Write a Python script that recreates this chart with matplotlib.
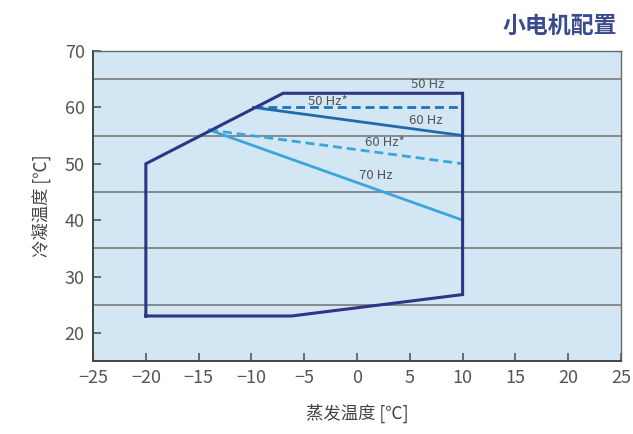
import matplotlib
matplotlib.use("Agg")
import matplotlib.pyplot as plt

plt.rcParams['font.family'] = ['Noto Sans CJK SC', 'DejaVu Sans']

# Envelope (evaporating temp, condensing temp)
env_x = [-20, -6.2, 10, 10, -7, -20, -20]
env_y = [23, 23, 26.8, 62.5, 62.5, 50, 23]

# Frequency lines
hz50s_x = [-9.8, 10]; hz50s_y = [60, 60]
hz60_x = [-9.8, 10];  hz60_y = [60, 55]
hz60s_x = [-14, 10];  hz60s_y = [56, 50]
hz70_x = [-14, 10];   hz70_y = [56, 40]

labels = ["50 Hz", "50 Hz*", "60 Hz", "60 Hz*", "70 Hz"]
label_x = [6.7, -2.8, 6.5, 2.6, 1.75]
label_y = [64.0, 61.0, 57.6, 53.8, 48.0]

xticks = list(range(-25, 30, 5))
yticks = list(range(20, 80, 10))
grid_y = [25, 35, 45, 55, 65]

fig = plt.figure(figsize=(6.33, 4.34), dpi=100)
ax = fig.add_axes([0.147, 0.168, 0.834, 0.7145])
ax.set_facecolor('#d3e6f3')
ax.set_xlim(-25, 25)
ax.set_ylim(15, 70)

for g in grid_y:
    ax.axhline(g, color='#7a7a7a', lw=1.2, zorder=1)

navy = '#2d3684'
ax.plot(env_x, env_y, color=navy, lw=2.2, zorder=4, solid_joinstyle='miter')
ax.plot(hz50s_x, hz50s_y, color='#2273b8', lw=2.0, ls=(0, (3.2, 1.8)), zorder=3)
ax.plot(hz60_x, hz60_y, color='#2169ad', lw=2.0, zorder=3)
ax.plot(hz60s_x, hz60s_y, color='#3aa6dc', lw=2.0, ls=(0, (3.2, 1.8)), zorder=3)
ax.plot(hz70_x, hz70_y, color='#3aa6dc', lw=2.0, zorder=3)

for t, x, y in zip(labels, label_x, label_y):
    ax.text(x, y, t, fontsize=9.5, color='#555555', ha='center', va='center', zorder=5)

ax.set_xticks(xticks)
ax.set_yticks(yticks)
ax.set_xticklabels([str(v).replace('-', '\u2212') for v in xticks])
ax.tick_params(direction='in', length=6, width=1.2, color='#555555',
               labelsize=13, labelcolor='#555555', pad=6)

for s in ['left', 'bottom']:
    ax.spines[s].set_color('#444444')
    ax.spines[s].set_linewidth(1.4)
for s in ['top', 'right']:
    ax.spines[s].set_color('#666666')
    ax.spines[s].set_linewidth(1.0)

ax.set_xlabel('蒸发温度 [℃]', fontsize=12.5, color='#444444', labelpad=12)
ax.set_ylabel('冷凝温度 [℃]', fontsize=12.5, color='#444444', labelpad=10)

fig.text(0.975, 0.94, '小电机配置', fontsize=16.5, fontweight='bold',
         color='#3a4a8c', ha='right', va='center')

fig.savefig('out.png', dpi=100)
